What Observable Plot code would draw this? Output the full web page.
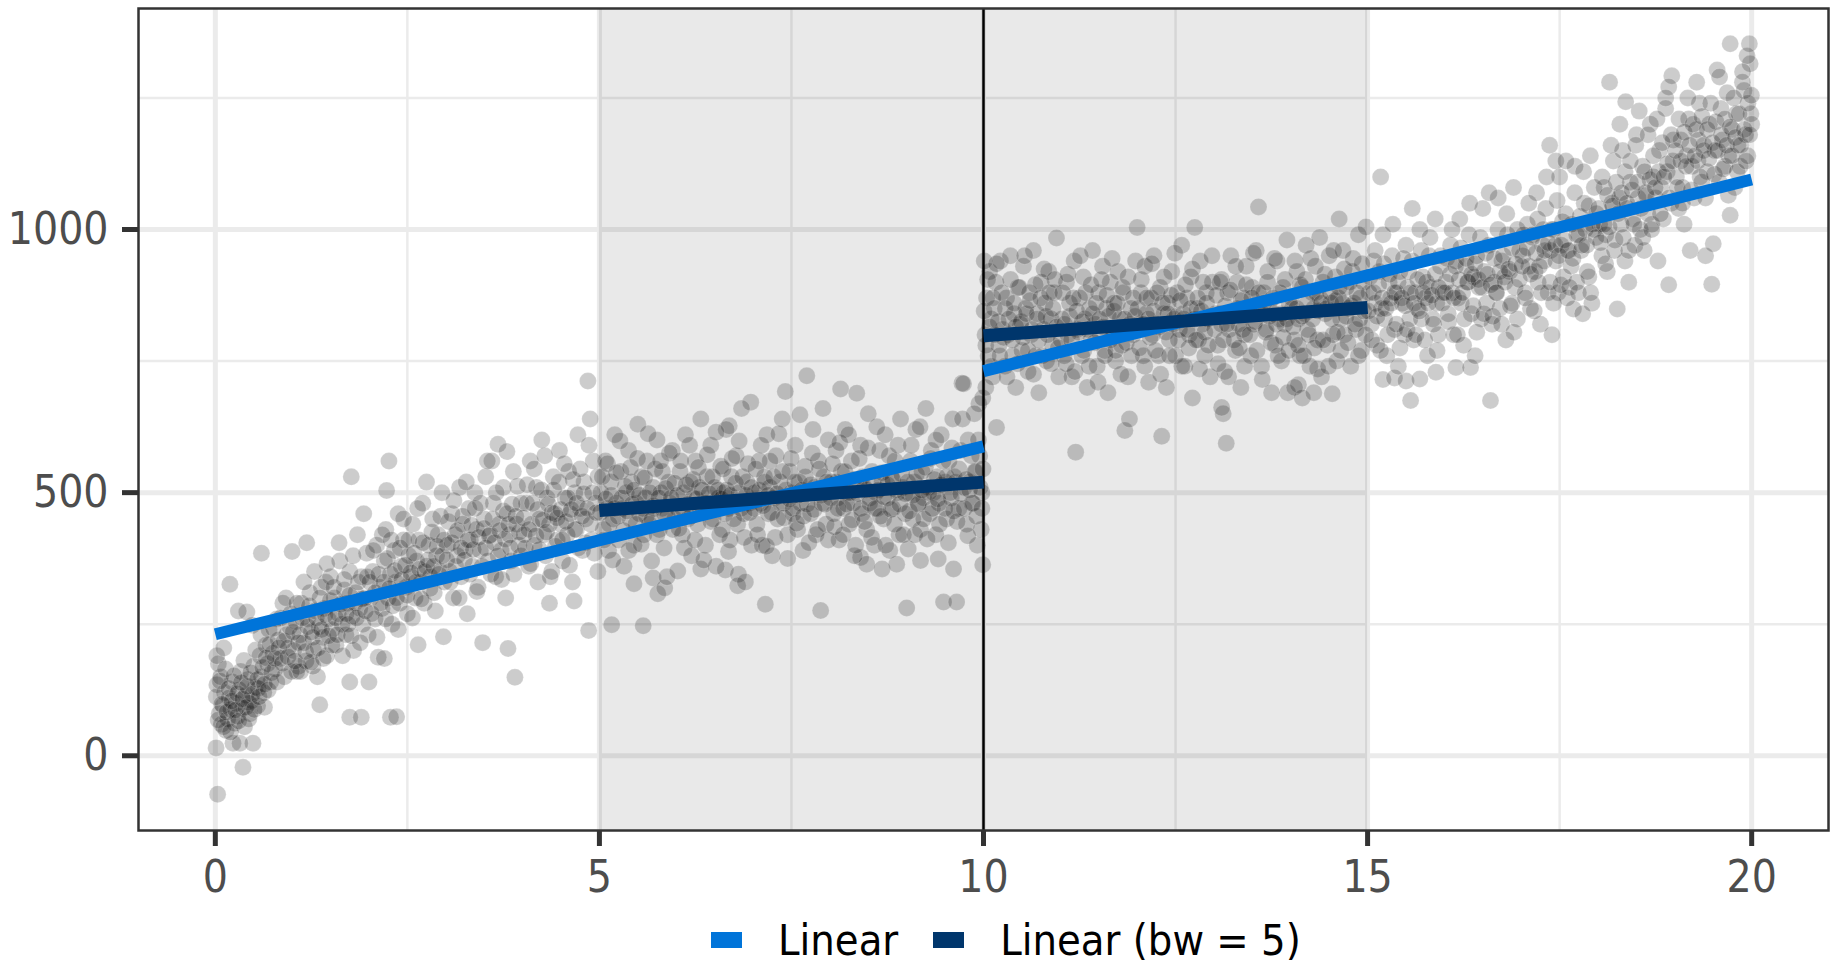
<!DOCTYPE html>
<html><head><meta charset="utf-8">
<script src="https://cdn.jsdelivr.net/npm/d3@7"></script>
<script src="https://cdn.jsdelivr.net/npm/@observablehq/plot@0.6"></script>
<style>
body{margin:0;background:#fff;width:1830px;height:966px;position:relative;overflow:hidden}
#chart{position:absolute;left:0;top:0}
#legend{position:absolute;left:711px;top:912px;height:56px;display:flex;align-items:center;font-family:"Liberation Sans Narrow","DejaVu Sans Condensed","Roboto Condensed",Roboto,sans-serif;font-stretch:condensed;font-size:43px;color:#000;white-space:nowrap}
.sw{width:31px;height:16px;display:inline-block}
g[aria-label$="tick label"]{fill:#4d4d4d}
</style></head><body><div id="chart"></div><div id="legend"></div>
<script>
// ---- data ----
const xTicks = [0, 5, 10, 15, 20];
const xMinor = [2.5, 7.5, 12.5, 17.5];
const yTicks = [0, 500, 1000];
const yMinor = [250, 750, 1250];
const cutoff = [10];
const shadeFrom = [5, 10];
const shadeTo = [10, 15];
const seriesNames = ["Linear", "Linear (bw = 5)"];
const seriesColors = ["#0074D9", "#00366C"];
// fitted segments: [x1, y1, x2, y2]
const linearFit = [[0, 231, 10, 588], [10, 731, 20, 1095]];
const bwFit = [[5, 466, 10, 520], [10, 798, 15, 852]];

const p0 = [[0.03,-73],[0.01,15],[0.36,-22],[0.49,24],[0.23,24],[0.32,24],[0.19,326],[0.41,273],[0.6,385],[0.02,135],[0.04,175],[0.05,80],[0.08,60],[0.1,95],[0.12,120],[0.14,48],[0.16,70],[0.18,110],[0.2,88],[0.22,140],[0.25,62],[0.27,100],[0.29,75],[0.31,125],[0.33,160],[0.35,90],[0.38,55],[0.4,115],[0.42,145],[0.45,80],[0.47,105],[0.5,170],[0.52,130],[0.55,95],[0.58,190],[0.6,150],[0.63,120],[0.66,210],[0.68,175],[0.7,240],[0.72,140],[0.75,195],[0.78,165],[0.8,260],[0.82,220],[0.85,185],[0.88,290],[0.9,150],[0.93,230],[0.95,205],[0.98,270],[0.02,190],[0.07,150],[0.11,205],[0.48,248],[0.3,275],[0.44,100],[0.56,128],[0.64,92]];
const p1 = [[1.0,388],[1.19,405],[1.77,530],[1.75,73],[1.9,73],[1.75,140],[1.36,97],[1.02,200],[1.05,255],[1.08,170],[1.1,230],[1.12,290],[1.15,215],[1.18,180],[1.2,260],[1.23,310],[1.25,235],[1.28,200],[1.3,275],[1.33,150],[1.35,245],[1.38,320],[1.4,225],[1.42,280],[1.45,190],[1.47,260],[1.5,340],[1.52,240],[1.55,300],[1.57,210],[1.6,270],[1.62,370],[1.65,250],[1.68,315],[1.7,230],[1.72,290],[1.75,350],[1.78,265],[1.8,200],[1.83,310],[1.85,420],[1.88,280],[1.9,340],[1.92,250],[1.95,300],[1.97,385],[1.99,230],[1.06,160],[1.27,170],[1.44,330]];
const p2 = [[2.0,140],[2.12,187],[2.2,185],[2.28,73],[2.36,74],[2.64,211],[2.97,226],[2.26,560],[2.23,504],[2.02,300],[2.05,350],[2.08,260],[2.1,400],[2.14,320],[2.17,280],[2.2,370],[2.22,430],[2.25,300],[2.28,345],[2.3,250],[2.33,390],[2.35,330],[2.38,460],[2.4,290],[2.42,360],[2.45,410],[2.48,320],[2.5,270],[2.52,380],[2.55,340],[2.57,440],[2.6,300],[2.62,370],[2.65,410],[2.68,330],[2.7,480],[2.72,290],[2.75,360],[2.78,400],[2.8,340],[2.83,450],[2.85,310],[2.88,380],[2.9,420],[2.93,350],[2.95,500],[2.98,330]];
const p3 = [[3.48,215],[3.81,204],[3.9,149],[3.68,592],[3.6,560],[3.02,400],[3.05,350],[3.08,460],[3.1,300],[3.12,420],[3.15,380],[3.18,510],[3.2,340],[3.22,440],[3.25,390],[3.28,270],[3.3,470],[3.32,410],[3.35,360],[3.38,500],[3.4,430],[3.42,320],[3.45,390],[3.5,450],[3.52,530],[3.55,370],[3.58,420],[3.62,480],[3.65,340],[3.7,440],[3.72,390],[3.75,510],[3.78,300],[3.8,460],[3.83,420],[3.85,370],[3.88,540],[3.92,440],[3.95,400],[3.98,480]];
const p4 = [[4.85,712],[4.86,238],[4.67,294],[4.35,290],[4.02,420],[4.05,480],[4.08,360],[4.1,560],[4.12,440],[4.15,400],[4.18,510],[4.2,330],[4.22,450],[4.25,600],[4.28,420],[4.3,380],[4.32,490],[4.35,440],[4.38,350],[4.4,530],[4.42,460],[4.45,410],[4.48,580],[4.5,440],[4.52,370],[4.55,490],[4.58,420],[4.6,540],[4.62,460],[4.65,330],[4.68,500],[4.7,430],[4.72,610],[4.75,470],[4.78,390],[4.8,520],[4.82,450],[4.88,640],[4.9,410],[4.92,560],[4.95,480],[4.98,350]];
const p5 = [[5.16,249],[5.57,247],[5.45,327],[5.7,338],[5.76,308],[5.85,319],[5.02,500],[5.05,430],[5.08,560],[5.1,470],[5.12,390],[5.15,520],[5.18,450],[5.2,610],[5.22,480],[5.25,410],[5.28,540],[5.3,470],[5.32,360],[5.35,500],[5.38,580],[5.4,450],[5.42,520],[5.45,400],[5.48,480],[5.5,630],[5.52,460],[5.55,530],[5.58,420],[5.6,490],[5.62,560],[5.65,440],[5.68,370],[5.7,510],[5.72,470],[5.75,600],[5.78,430],[5.8,500],[5.82,540],[5.85,460],[5.88,340],[5.9,520],[5.92,480],[5.95,580],[5.98,450]];
const p6 = [[6.02,351],[6.32,355],[6.64,353],[6.81,345],[6.8,323],[6.97,672],[6.69,627],[6.02,470],[6.05,540],[6.08,420],[6.1,500],[6.12,610],[6.15,450],[6.18,520],[6.2,380],[6.22,490],[6.25,560],[6.28,440],[6.3,510],[6.32,640],[6.35,470],[6.38,400],[6.4,530],[6.42,480],[6.45,590],[6.48,450],[6.5,510],[6.52,360],[6.55,490],[6.58,550],[6.6,430],[6.62,500],[6.65,620],[6.68,470],[6.7,410],[6.72,530],[6.75,480],[6.78,570],[6.8,440],[6.82,500],[6.85,660],[6.88,460],[6.9,330],[6.92,520],[6.95,480],[6.98,400]];
const p7 = [[7.16,288],[7.42,692],[7.7,722],[7.88,276],[7.02,500],[7.05,440],[7.08,560],[7.1,480],[7.12,400],[7.15,530],[7.18,610],[7.2,460],[7.22,510],[7.25,380],[7.28,490],[7.3,570],[7.32,450],[7.35,520],[7.38,640],[7.4,480],[7.45,420],[7.48,540],[7.5,500],[7.52,460],[7.55,590],[7.58,430],[7.6,520],[7.62,480],[7.65,390],[7.68,550],[7.72,500],[7.75,460],[7.78,620],[7.8,510],[7.82,420],[7.85,560],[7.9,480],[7.92,530],[7.95,440],[7.98,600]];
const p8 = [[8.14,697],[8.35,689],[8.4,377],[8.48,364],[8.68,355],[8.87,364],[8.02,520],[8.05,460],[8.08,580],[8.1,490],[8.12,410],[8.15,540],[8.18,470],[8.2,620],[8.22,500],[8.25,440],[8.28,560],[8.3,480],[8.32,380],[8.38,520],[8.4,590],[8.42,460],[8.45,510],[8.48,430],[8.5,650],[8.52,490],[8.55,540],[8.58,400],[8.6,500],[8.62,470],[8.65,580],[8.68,520],[8.7,450],[8.72,610],[8.75,490],[8.78,390],[8.8,530],[8.82,470],[8.85,560],[8.88,500],[8.9,420],[8.92,640],[8.95,510],[8.98,460]];
const p9 = [[9.0,281],[9.48,292],[9.65,292],[9.72,708],[9.02,393],[9.18,371],[9.41,374],[9.61,355],[9.74,707],[9.94,669],[9.99,363],[9.02,500],[9.05,560],[9.08,450],[9.1,520],[9.12,620],[9.15,480],[9.18,430],[9.2,540],[9.22,490],[9.25,660],[9.28,510],[9.3,460],[9.32,580],[9.35,500],[9.38,420],[9.4,530],[9.42,480],[9.45,610],[9.5,520],[9.52,450],[9.55,560],[9.58,490],[9.6,640],[9.62,530],[9.68,470],[9.7,580],[9.75,510],[9.78,440],[9.8,600],[9.82,520],[9.85,480],[9.88,650],[9.9,540],[9.92,400],[9.95,570],[9.98,500],[9.99,680],[9.97,430]];
const p10 = [[10.17,624],[10.95,984],[10.02,800],[10.04,870],[10.06,760],[10.08,920],[10.1,830],[10.12,720],[10.14,850],[10.16,900],[10.2,780],[10.22,940],[10.25,810],[10.28,740],[10.3,870],[10.32,800],[10.35,950],[10.38,760],[10.4,840],[10.42,700],[10.45,890],[10.48,820],[10.5,770],[10.52,930],[10.55,850],[10.58,730],[10.6,880],[10.62,800],[10.65,960],[10.68,760],[10.7,840],[10.72,690],[10.75,900],[10.78,810],[10.8,860],[10.82,750],[10.85,920],[10.88,830],[10.9,780],[10.92,880],[10.98,720],[10.01,940],[10.03,700]];
const p11 = [[11.2,577],[11.84,618],[11.9,640],[11.02,830],[11.05,760],[11.08,900],[11.1,800],[11.12,860],[11.15,720],[11.18,940],[11.22,810],[11.25,870],[11.28,760],[11.3,910],[11.32,830],[11.35,700],[11.38,850],[11.4,790],[11.42,960],[11.45,820],[11.48,740],[11.5,880],[11.52,800],[11.55,930],[11.58,770],[11.6,850],[11.62,690],[11.65,900],[11.68,810],[11.7,860],[11.72,750],[11.75,920],[11.78,830],[11.8,780],[11.82,880],[11.88,720],[11.92,850],[11.95,800],[11.98,940]];
const p12 = [[12.0,1004],[12.32,607],[12.75,1004],[12.02,820],[12.05,880],[12.08,760],[12.1,930],[12.12,840],[12.15,710],[12.18,870],[12.2,800],[12.22,950],[12.25,820],[12.28,760],[12.3,890],[12.35,840],[12.38,700],[12.4,860],[12.42,790],[12.45,920],[12.48,830],[12.5,760],[12.52,880],[12.55,810],[12.58,970],[12.6,840],[12.62,740],[12.65,870],[12.68,800],[12.7,910],[12.72,680],[12.78,850],[12.8,790],[12.82,940],[12.85,820],[12.88,760],[12.9,880],[12.92,830],[12.95,720],[12.98,900]];
const p13 = [[13.16,594],[13.58,1043],[13.12,650],[13.1,662],[13.96,690],[13.02,840],[13.05,780],[13.08,900],[13.1,820],[13.14,730],[13.18,880],[13.2,810],[13.22,950],[13.25,840],[13.28,770],[13.3,900],[13.32,820],[13.35,700],[13.38,870],[13.4,800],[13.42,930],[13.45,850],[13.48,760],[13.5,890],[13.52,820],[13.55,960],[13.6,840],[13.62,740],[13.65,880],[13.68,810],[13.7,920],[13.72,860],[13.75,690],[13.78,840],[13.8,780],[13.82,940],[13.85,830],[13.88,750],[13.9,890],[13.92,820],[13.95,980],[13.98,860]];
const p14 = [[14.63,1020],[14.1,705],[14.15,680],[14.05,700],[14.3,690],[14.35,735],[14.54,688],[14.02,850],[14.05,790],[14.08,920],[14.1,830],[14.12,760],[14.15,890],[14.18,840],[14.2,970],[14.22,810],[14.25,740],[14.28,880],[14.3,850],[14.32,930],[14.35,790],[14.38,870],[14.4,720],[14.42,900],[14.45,840],[14.48,780],[14.5,950],[14.52,860],[14.55,800],[14.58,910],[14.6,750],[14.62,870],[14.65,830],[14.68,960],[14.7,800],[14.72,890],[14.75,850],[14.78,740],[14.8,920],[14.82,860],[14.85,810],[14.88,990],[14.9,830],[14.92,770],[14.95,900],[14.98,1005]];
const p15 = [[15.17,1100],[15.56,675],[15.2,715],[15.35,718],[15.5,712],[15.68,716],[15.02,880],[15.05,820],[15.08,940],[15.1,860],[15.12,780],[15.15,920],[15.18,850],[15.2,990],[15.22,830],[15.25,760],[15.28,900],[15.3,870],[15.32,950],[15.35,810],[15.38,880],[15.4,740],[15.42,920],[15.45,860],[15.48,800],[15.5,970],[15.52,890],[15.55,830],[15.58,940],[15.6,790],[15.62,880],[15.65,850],[15.68,1000],[15.7,830],[15.72,910],[15.75,870],[15.78,760],[15.8,950],[15.82,890],[15.85,830],[15.88,1020],[15.89,729],[15.9,860],[15.92,800],[15.95,930],[15.98,880]];
const p16 = [[16.6,675],[16.15,738],[16.34,738],[16.02,900],[16.05,840],[16.08,970],[16.1,880],[16.12,800],[16.15,940],[16.18,870],[16.2,1020],[16.22,860],[16.25,780],[16.28,930],[16.3,900],[16.32,990],[16.35,840],[16.38,910],[16.4,760],[16.42,950],[16.45,890],[16.48,830],[16.5,1040],[16.52,920],[16.55,860],[16.58,970],[16.62,820],[16.65,900],[16.68,880],[16.7,1060],[16.72,850],[16.75,940],[16.78,910],[16.8,790],[16.82,990],[16.85,920],[16.88,860],[16.9,1080],[16.92,890],[16.95,830],[16.98,960]];
const p17 = [[17.68,849],[17.92,860],[17.37,1160],[17.45,1130],[17.02,950],[17.05,880],[17.08,1010],[17.1,930],[17.12,850],[17.15,990],[17.18,920],[17.2,1070],[17.22,900],[17.25,820],[17.28,970],[17.3,940],[17.32,1040],[17.35,880],[17.38,960],[17.4,800],[17.42,1000],[17.45,940],[17.48,880],[17.5,1100],[17.52,970],[17.55,910],[17.58,1030],[17.6,870],[17.62,960],[17.65,930],[17.7,1120],[17.72,900],[17.75,990],[17.78,960],[17.8,840],[17.82,1050],[17.85,970],[17.88,910],[17.9,1140],[17.95,1000],[17.98,1030]];
const p18 = [[18.15,1280],[18.36,1243],[18.96,1292],[18.92,1271],[18.25,849],[18.92,895],[18.02,1010],[18.05,950],[18.08,1080],[18.1,990],[18.12,920],[18.18,1050],[18.2,1130],[18.22,980],[18.28,1060],[18.3,1010],[18.32,1150],[18.35,940],[18.38,1040],[18.4,900],[18.42,1090],[18.45,1020],[18.48,970],[18.5,1180],[18.52,1060],[18.55,1000],[18.58,1120],[18.6,960],[18.62,1070],[18.65,1030],[18.68,1200],[18.7,1010],[18.72,1100],[18.75,1060],[18.78,940],[18.8,1150],[18.82,1080],[18.85,1020],[18.88,1230],[18.9,1110],[18.95,1050],[18.98,1170]];
const p19 = [[19.72,1353],[19.97,1353],[19.55,1303],[19.98,1315],[19.9,1264],[19.5,973],[19.2,960],[19.4,950],[19.72,1027],[19.48,896],[19.02,1100],[19.05,1040],[19.08,1170],[19.1,1080],[19.12,1010],[19.15,1140],[19.18,1210],[19.22,1120],[19.25,1060],[19.28,1190],[19.3,1130],[19.32,1240],[19.35,1090],[19.38,1160],[19.42,1110],[19.45,1200],[19.52,1150],[19.58,1090],[19.6,1230],[19.62,1170],[19.65,1120],[19.68,1260],[19.7,1140],[19.75,1190],[19.78,1080],[19.8,1220],[19.82,1160],[19.85,1120],[19.88,1280],[19.92,1180],[19.95,1140],[19.99,1220],[20.0,1200],[19.94,1330]];

const q0 = [[0.013,112],[0.037,68],[0.061,142],[0.084,98],[0.107,55],[0.133,165],[0.151,83],[0.176,128],[0.198,45],[0.214,104],[0.243,152],[0.262,87],[0.287,118],[0.304,66],[0.339,139],[0.357,108],[0.372,181],[0.398,92],[0.417,132],[0.436,70],[0.461,158],[0.483,117],[0.507,88],[0.526,201],[0.548,145],[0.571,112],[0.594,230],[0.617,168],[0.639,136],[0.662,186],[0.688,125],[0.711,212],[0.734,158],[0.757,242],[0.779,185],[0.803,140],[0.826,205],[0.851,262],[0.874,176],[0.897,218],[0.921,300],[0.946,188],[0.969,245],[0.991,160]];
const q1 = [[1.014,235],[1.037,180],[1.061,290],[1.083,215],[1.109,160],[1.131,262],[1.154,330],[1.176,198],[1.203,245],[1.224,285],[1.247,178],[1.269,225],[1.291,350],[1.316,262],[1.338,205],[1.361,300],[1.384,240],[1.407,185],[1.431,268],[1.452,365],[1.474,228],[1.497,295],[1.519,210],[1.543,320],[1.566,262],[1.589,230],[1.611,405],[1.634,288],[1.657,190],[1.679,335],[1.703,270],[1.726,250],[1.749,305],[1.771,228],[1.794,380],[1.817,290],[1.839,262],[1.862,330],[1.886,215],[1.909,298],[1.932,460],[1.954,275],[1.977,340]];
const q2 = [[2.011,330],[2.034,270],[2.057,390],[2.081,310],[2.104,225],[2.127,345],[2.151,290],[2.173,420],[2.196,330],[2.219,260],[2.242,375],[2.266,318],[2.289,410],[2.312,285],[2.336,352],[2.359,300],[2.381,240],[2.404,395],[2.427,335],[2.451,450],[2.474,362],[2.496,305],[2.519,410],[2.543,348],[2.566,262],[2.589,385],[2.611,330],[2.634,470],[2.657,355],[2.681,298],[2.703,405],[2.727,350],[2.749,520],[2.772,372],[2.796,318],[2.819,425],[2.842,360],[2.864,275],[2.887,398],[2.911,345],[2.934,455],[2.957,380],[2.979,410]];
const q3 = [[3.013,372],[3.036,445],[3.059,330],[3.082,405],[3.106,485],[3.129,360],[3.152,428],[3.174,300],[3.197,395],[3.221,455],[3.244,372],[3.267,520],[3.289,410],[3.313,345],[3.336,438],[3.359,392],[3.382,470],[3.404,312],[3.427,415],[3.451,480],[3.474,360],[3.497,432],[3.519,395],[3.542,560],[3.566,418],[3.589,345],[3.611,450],[3.634,405],[3.657,500],[3.681,380],[3.703,428],[3.727,335],[3.749,465],[3.772,412],[3.796,578],[3.819,440],[3.842,395],[3.864,478],[3.887,345],[3.911,455],[3.934,512],[3.957,425],[3.979,380]];
const q4 = [[4.013,452],[4.036,395],[4.059,515],[4.082,430],[4.106,365],[4.129,480],[4.152,545],[4.174,418],[4.197,468],[4.221,392],[4.244,505],[4.267,448],[4.289,570],[4.313,425],[4.336,478],[4.359,340],[4.382,462],[4.404,505],[4.427,398],[4.451,452],[4.474,520],[4.497,468],[4.519,410],[4.543,555],[4.566,445],[4.589,490],[4.611,362],[4.634,468],[4.657,525],[4.681,430],[4.703,480],[4.727,395],[4.749,545],[4.772,455],[4.796,498],[4.819,405],[4.842,470],[4.864,590],[4.887,440],[4.911,500],[4.934,385],[4.957,462],[4.979,530]];
const q5 = [[5.013,462],[5.036,530],[5.059,410],[5.082,488],[5.106,555],[5.129,440],[5.152,495],[5.174,372],[5.197,470],[5.221,538],[5.244,455],[5.267,598],[5.289,490],[5.313,428],[5.336,512],[5.359,465],[5.382,390],[5.404,548],[5.427,478],[5.451,505],[5.474,440],[5.497,565],[5.519,495],[5.543,402],[5.566,470],[5.589,528],[5.611,455],[5.634,612],[5.657,500],[5.681,448],[5.703,475],[5.727,545],[5.749,420],[5.772,490],[5.796,560],[5.819,470],[5.842,395],[5.864,508],[5.887,455],[5.911,575],[5.934,490],[5.957,430],[5.979,518]];
const q6 = [[6.013,495],[6.036,432],[6.059,560],[6.082,470],[6.106,395],[6.129,515],[6.152,478],[6.174,590],[6.197,455],[6.221,525],[6.244,410],[6.267,488],[6.289,548],[6.313,465],[6.336,505],[6.359,372],[6.382,480],[6.404,572],[6.427,498],[6.451,445],[6.474,530],[6.497,470],[6.519,615],[6.543,505],[6.566,420],[6.589,488],[6.611,545],[6.634,460],[6.657,505],[6.681,388],[6.703,495],[6.727,565],[6.749,450],[6.772,518],[6.796,480],[6.819,598],[6.842,470],[6.864,530],[6.887,415],[6.911,495],[6.934,555],[6.957,462],[6.979,510]];
const q7 = [[7.013,470],[7.036,545],[7.059,420],[7.082,505],[7.106,590],[7.129,475],[7.152,520],[7.174,398],[7.197,495],[7.221,560],[7.244,462],[7.267,530],[7.289,415],[7.313,498],[7.336,612],[7.359,480],[7.382,540],[7.404,452],[7.427,505],[7.451,375],[7.474,488],[7.497,565],[7.519,470],[7.543,520],[7.566,442],[7.589,495],[7.611,648],[7.634,505],[7.657,455],[7.681,530],[7.703,478],[7.727,405],[7.749,515],[7.772,575],[7.796,468],[7.819,502],[7.842,430],[7.864,545],[7.887,495],[7.911,660],[7.934,478],[7.957,520],[7.979,410]];
const q8 = [[8.013,490],[8.036,555],[8.059,435],[8.082,520],[8.106,470],[8.129,595],[8.152,505],[8.174,420],[8.197,540],[8.221,478],[8.244,610],[8.267,500],[8.289,448],[8.313,525],[8.336,400],[8.359,498],[8.382,565],[8.404,470],[8.427,530],[8.451,445],[8.474,505],[8.497,585],[8.519,480],[8.543,415],[8.566,520],[8.589,470],[8.611,625],[8.634,505],[8.657,455],[8.681,538],[8.703,492],[8.727,400],[8.749,515],[8.772,570],[8.796,468],[8.819,525],[8.842,440],[8.864,505],[8.887,590],[8.911,478],[8.934,535],[8.957,420],[8.979,498]];
const q9 = [[9.013,520],[9.036,465],[9.059,590],[9.082,495],[9.106,420],[9.129,535],[9.152,478],[9.174,625],[9.197,505],[9.221,450],[9.244,548],[9.267,412],[9.289,500],[9.313,565],[9.336,470],[9.359,525],[9.382,600],[9.404,488],[9.427,440],[9.451,515],[9.474,560],[9.497,470],[9.519,530],[9.543,405],[9.566,500],[9.589,585],[9.611,465],[9.634,520],[9.657,445],[9.681,545],[9.703,498],[9.727,640],[9.749,470],[9.772,525],[9.796,418],[9.819,505],[9.842,570],[9.864,480],[9.887,540],[9.911,455],[9.934,600],[9.957,510],[9.979,470],[9.993,545]];
const q10 = [[10.009,845],[10.031,780],[10.054,905],[10.077,815],[10.099,740],[10.123,870],[10.146,800],[10.169,935],[10.191,825],[10.214,760],[10.237,880],[10.261,795],[10.284,850],[10.306,720],[10.329,830],[10.352,905],[10.376,790],[10.399,860],[10.421,815],[10.444,745],[10.467,890],[10.491,825],[10.514,795],[10.536,950],[10.559,840],[10.582,770],[10.606,865],[10.629,810],[10.651,725],[10.674,895],[10.697,830],[10.721,790],[10.744,870],[10.767,760],[10.789,925],[10.812,835],[10.836,800],[10.859,880],[10.881,745],[10.904,850],[10.927,905],[10.951,815],[10.974,775]];
const q11 = [[11.009,790],[11.031,880],[11.054,820],[11.077,745],[11.099,915],[11.123,835],[11.146,790],[11.169,870],[11.191,730],[11.214,845],[11.237,805],[11.261,950],[11.284,825],[11.306,770],[11.329,880],[11.352,810],[11.376,740],[11.399,895],[11.421,840],[11.444,785],[11.467,860],[11.491,710],[11.514,830],[11.536,905],[11.559,815],[11.582,760],[11.606,875],[11.629,835],[11.651,790],[11.674,945],[11.697,845],[11.721,770],[11.744,860],[11.767,810],[11.789,725],[11.812,890],[11.836,830],[11.859,785],[11.881,910],[11.904,820],[11.927,760],[11.951,870],[11.974,835]];
const q12 = [[12.009,850],[12.031,775],[12.054,905],[12.077,820],[12.099,740],[12.123,870],[12.146,830],[12.169,795],[12.191,935],[12.214,845],[12.237,770],[12.261,880],[12.284,815],[12.306,725],[12.329,860],[12.352,910],[12.376,805],[12.399,840],[12.421,760],[12.444,875],[12.467,820],[12.491,955],[12.514,835],[12.536,790],[12.559,865],[12.582,740],[12.606,830],[12.629,895],[12.651,810],[12.674,775],[12.697,850],[12.721,925],[12.744,830],[12.767,790],[12.789,870],[12.812,735],[12.836,845],[12.859,900],[12.881,805],[12.904,860],[12.927,780],[12.951,835],[12.974,950]];
const q13 = [[13.009,810],[13.031,875],[13.054,745],[13.077,840],[13.099,905],[13.123,790],[13.146,855],[13.169,820],[13.191,720],[13.214,885],[13.237,835],[13.261,790],[13.284,930],[13.306,850],[13.329,775],[13.352,865],[13.376,810],[13.399,740],[13.421,895],[13.444,840],[13.467,800],[13.491,870],[13.514,955],[13.536,825],[13.559,770],[13.582,880],[13.606,845],[13.629,715],[13.651,860],[13.674,805],[13.697,900],[13.721,835],[13.744,785],[13.767,870],[13.789,945],[13.812,820],[13.836,760],[13.859,880],[13.881,840],[13.904,795],[13.927,905],[13.951,830],[13.974,770]];
const q14 = [[14.009,870],[14.031,815],[14.054,940],[14.077,850],[14.099,780],[14.123,895],[14.146,835],[14.169,760],[14.191,905],[14.214,860],[14.237,800],[14.261,945],[14.284,830],[14.306,775],[14.329,880],[14.352,845],[14.376,985],[14.399,860],[14.421,790],[14.444,915],[14.467,850],[14.491,740],[14.514,880],[14.536,830],[14.559,960],[14.582,865],[14.606,805],[14.629,890],[14.651,770],[14.674,860],[14.697,925],[14.721,835],[14.744,785],[14.767,900],[14.789,855],[14.812,945],[14.836,820],[14.859,880],[14.881,760],[14.904,870],[14.927,935],[14.951,845],[14.974,800]];
const q15 = [[15.009,845],[15.031,910],[15.054,790],[15.077,880],[15.099,960],[15.123,835],[15.146,895],[15.169,770],[15.191,870],[15.214,935],[15.237,850],[15.261,800],[15.284,915],[15.306,860],[15.329,1010],[15.352,880],[15.376,820],[15.399,900],[15.421,775],[15.444,870],[15.467,945],[15.491,855],[15.514,810],[15.536,920],[15.559,880],[15.582,1040],[15.606,860],[15.629,800],[15.651,905],[15.674,845],[15.697,960],[15.721,880],[15.744,790],[15.767,900],[15.789,860],[15.812,985],[15.836,875],[15.859,820],[15.881,915],[15.904,770],[15.927,890],[15.951,950],[15.974,860]];
const q16 = [[16.009,880],[16.031,945],[16.054,825],[16.077,915],[16.099,1000],[16.123,870],[16.146,930],[16.169,800],[16.191,905],[16.214,965],[16.237,880],[16.261,830],[16.284,945],[16.306,900],[16.329,1050],[16.352,915],[16.376,855],[16.399,935],[16.421,805],[16.444,905],[16.467,985],[16.491,890],[16.514,840],[16.536,955],[16.559,915],[16.582,1070],[16.606,895],[16.629,835],[16.651,945],[16.674,880],[16.697,1000],[16.721,920],[16.744,820],[16.767,950],[16.789,900],[16.812,1030],[16.836,925],[16.859,855],[16.881,965],[16.904,805],[16.927,935],[16.951,1000],[16.974,905]];
const q17 = [[17.009,930],[17.031,990],[17.054,870],[17.077,965],[17.099,1050],[17.123,915],[17.146,985],[17.169,845],[17.191,955],[17.214,1020],[17.237,930],[17.261,880],[17.284,1000],[17.306,960],[17.329,1100],[17.352,975],[17.376,900],[17.399,1000],[17.421,860],[17.444,970],[17.467,1055],[17.491,950],[17.514,895],[17.536,1015],[17.559,980],[17.582,1130],[17.606,960],[17.629,890],[17.651,1010],[17.674,945],[17.697,1070],[17.721,990],[17.744,880],[17.767,1025],[17.789,970],[17.812,1110],[17.836,1000],[17.859,920],[17.881,1045],[17.904,880],[17.927,1010],[17.951,1080],[17.974,985]];
const q18 = [[18.009,1040],[18.031,975],[18.054,1100],[18.077,1010],[18.099,935],[18.123,1065],[18.146,1005],[18.169,1160],[18.191,1045],[18.214,960],[18.237,1090],[18.261,1030],[18.284,1200],[18.306,1070],[18.329,985],[18.352,1110],[18.376,1050],[18.399,960],[18.421,1130],[18.444,1075],[18.467,1010],[18.491,1160],[18.514,1090],[18.536,1225],[18.559,1040],[18.582,985],[18.606,1110],[18.629,1065],[18.651,1180],[18.674,1095],[18.697,1000],[18.721,1140],[18.744,1080],[18.767,1210],[18.789,1110],[18.812,1030],[18.836,1165],[18.859,1100],[18.881,1250],[18.904,1125],[18.927,1060],[18.951,1180],[18.974,1130]];
const q19 = [[19.009,1150],[19.031,1080],[19.054,1210],[19.077,1130],[19.099,1050],[19.123,1185],[19.146,1120],[19.169,1250],[19.191,1160],[19.214,1075],[19.237,1200],[19.261,1140],[19.284,1280],[19.306,1170],[19.329,1100],[19.352,1215],[19.376,1150],[19.399,1060],[19.421,1190],[19.444,1135],[19.467,1240],[19.491,1165],[19.514,1105],[19.536,1205],[19.559,1150],[19.582,1290],[19.606,1180],[19.629,1115],[19.651,1210],[19.674,1160],[19.697,1065],[19.721,1195],[19.744,1140],[19.767,1250],[19.789,1175],[19.812,1110],[19.836,1220],[19.859,1160],[19.881,1300],[19.904,1190],[19.927,1130],[19.951,1240],[19.974,1180],[19.996,1255]];

// ---- build tables ----
const points = [p0,p1,p2,p3,p4,p5,p6,p7,p8,p9,p10,p11,p12,p13,p14,p15,p16,p17,p18,p19,
                q0,q1,q2,q3,q4,q5,q6,q7,q8,q9,q10,q11,q12,q13,q14,q15,q16,q17,q18,q19]
  .flat().map(([x, y]) => ({x, y}));
const shade = shadeFrom.map((a, i) => ({x1: a, x2: shadeTo[i]}));
const seg = s => s.map(([x1, y1, x2, y2]) => ({x1, y1, x2, y2}));

const FONT = '"Liberation Sans Narrow","DejaVu Sans Condensed","Roboto Condensed",Roboto,sans-serif';

const chart = Plot.plot({
  width: 1830, height: 890,
  marginTop: 8, marginLeft: 138, marginRight: 2, marginBottom: 60,
  x: {domain: [-1, 21], label: null},
  y: {domain: [-142, 1420], label: null},
  style: {fontFamily: FONT, fontSize: "44px", fontStretch: "condensed", background: "white", overflow: "visible"},
  marks: [
    Plot.gridX(xMinor, {stroke: "#EBEBEB", strokeOpacity: 1, strokeWidth: 2.5}),
    Plot.gridY(yMinor, {stroke: "#EBEBEB", strokeOpacity: 1, strokeWidth: 2.5}),
    Plot.gridX(xTicks, {stroke: "#EBEBEB", strokeOpacity: 1, strokeWidth: 5}),
    Plot.gridY(yTicks, {stroke: "#EBEBEB", strokeOpacity: 1, strokeWidth: 5}),
    Plot.dot(points, {x: "x", y: "y", r: 8.5, fill: "black", fillOpacity: 0.2, stroke: "white", strokeOpacity: 0.3, strokeWidth: 0.6}),
    Plot.rect(shade, {x1: "x1", x2: "x2", fill: "black", fillOpacity: 0.085}),
    Plot.ruleX(cutoff, {stroke: "black", strokeWidth: 2.5}),
    Plot.link(seg(linearFit), {x1: "x1", y1: "y1", x2: "x2", y2: "y2", stroke: seriesColors[0], strokeWidth: 12, strokeLinecap: "butt"}),
    Plot.link(seg(bwFit), {x1: "x1", y1: "y1", x2: "x2", y2: "y2", stroke: seriesColors[1], strokeWidth: 13, strokeLinecap: "butt"}),
    Plot.frame({stroke: "#333", strokeWidth: 2.5}),
    Plot.axisX(xTicks, {tickSize: 16, strokeWidth: 5, stroke: "#333", tickPadding: 14, label: null, tickFormat: d => String(d)}),
    Plot.axisY(yTicks, {tickSize: 16, strokeWidth: 5, stroke: "#333", tickPadding: 14, label: null, tickFormat: d => String(d)})
  ]
});
document.getElementById("chart").appendChild(chart);

const legend = document.getElementById("legend");
seriesNames.forEach((name, i) => {
  const sw = document.createElement("span");
  sw.className = "sw";
  sw.style.background = seriesColors[i];
  sw.style.marginRight = "36px";
  if (i > 0) sw.style.marginLeft = "35px";
  const t = document.createElement("span");
  t.textContent = name;
  legend.appendChild(sw);
  legend.appendChild(t);
});
</script></body></html>
